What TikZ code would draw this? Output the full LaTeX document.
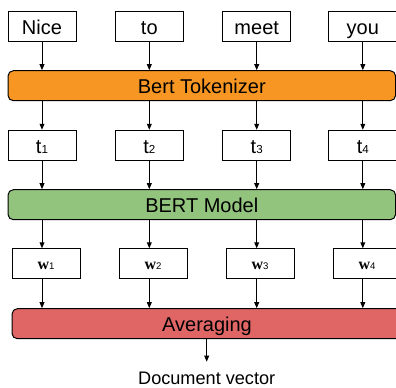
\documentclass[tikz,border=0pt]{standalone}
\usepackage{fontspec}
\setmainfont{Liberation Sans}
\newfontfamily\wfont{Liberation Serif}
\usetikzlibrary{arrows.meta}

\definecolor{tokorange}{RGB}{247,150,34}
\definecolor{bertgreen}{RGB}{147,196,125}
\definecolor{avgred}{RGB}{224,102,102}

\newcommand{\tok}[1]{t{\fontsize{8.7}{9}\selectfont #1}}
\newcommand{\wvec}[1]{{\wfont\bfseries\fontsize{12}{12}\selectfont w}{\fontsize{7.2}{8}\selectfont #1}}

\tikzset{every picture/.style={line width=0.75pt}}
\tikzset{
  wordbox/.style={draw, fill=white, minimum width=68*0.75pt, minimum height=30*0.75pt, inner sep=0pt, text height=12pt, text depth=0pt, font=\fontsize{15}{18}\selectfont},
  bar/.style={draw, rounded corners=4pt, minimum height=30*0.75pt, inner sep=0pt, text height=11.6pt, text depth=0pt, font=\fontsize{15}{18}\selectfont},
  flow/.style={-{Triangle[length=4.5pt,width=3.6pt]}}
}

\begin{document}
\begin{tikzpicture}[x=0.75pt,y=0.75pt,yscale=-1,xscale=1]
	\useasboundingbox (0,0) rectangle (396,387);
	\clip (0,0) rectangle (396,387);

	% Input words
	\node[wordbox] (nice) at (42,26.3) {Nice};
	\node[wordbox] (to) at (149.3,26.3) {to};
	\node[wordbox] (meet) at (256.7,26.3) {meet};
	\node[wordbox] (you) at (362.8,26.3) {you};

	% Bert Tokenizer
	\node[bar, fill=tokorange, minimum width=387.6*0.75pt] (tokenizer) at (201.8,85.7) {Bert Tokenizer};

	% Tokens
	\node[wordbox] (t1) at (42,145.3) {\tok{1}};
	\node[wordbox] (t2) at (149.3,145.3) {\tok{2}};
	\node[wordbox] (t3) at (256.7,145.3) {\tok{3}};
	\node[wordbox] (t4) at (362.8,145.3) {\tok{4}};

	% BERT Model
	\node[bar, fill=bertgreen, minimum width=387.6*0.75pt] (bert) at (201.8,204.7) {BERT Model};

	% Word vectors
	\node[wordbox, text height=9pt] (w1) at (46,263.8) {\wvec{1}};
	\node[wordbox, text height=9pt] (w2) at (153,263.8) {\wvec{2}};
	\node[wordbox, text height=9pt] (w3) at (260,263.8) {\wvec{3}};
	\node[wordbox, text height=9pt] (w4) at (367,263.8) {\wvec{4}};

	% Averaging
	\node[bar, fill=avgred, minimum width=390*0.75pt] (avg) at (207,323.7) {Averaging};

	% Output
	\node[font=\fontsize{13.6}{16}\selectfont] (docvec) at (206.7,378) {Document vector};

	% Arrows
	\foreach \w/\t/\v in {nice/t1/w1, to/t2/w2, meet/t3/w3, you/t4/w4} {
		\draw[flow] (\w.south) -- (\w.south |- tokenizer.north);
		\draw[flow] (\t.north |- tokenizer.south) -- (\t.north);
		\draw[flow] (\t.south) -- (\t.south |- bert.north);
		\draw[flow] (\t.south |- bert.south) -- (\t.south |- \v.north);
		\draw[flow] (\t.south |- \v.south) -- (\t.south |- avg.north);
	}
	\coordinate (docin) at (206.7,361.7);
	\draw[flow] (docin |- avg.south) -- (docin);

\end{tikzpicture}
\end{document}
